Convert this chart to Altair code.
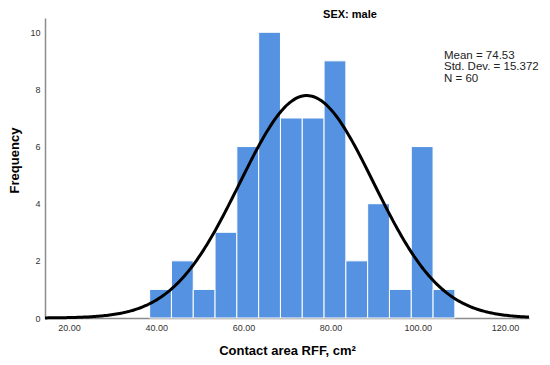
import altair as alt
import numpy as np
import pandas as pd

# Histogram data (bin edges in cm², frequencies)
bin_start = [38.5, 43.5, 48.5, 53.5, 58.5, 63.5, 68.5, 73.5, 78.5, 83.5, 88.5, 93.5, 98.5, 103.5]
bin_end = [43.5, 48.5, 53.5, 58.5, 63.5, 68.5, 73.5, 78.5, 83.5, 88.5, 93.5, 98.5, 103.5, 108.5]
counts = [1, 2, 1, 3, 6, 10, 7, 7, 9, 2, 4, 1, 6, 1]

# Summary statistics shown on the chart
MEAN = 74.53
SD = 15.372
N = 60
BIN_WIDTH = 5.0

x_ticks = [20, 40, 60, 80, 100, 120]
y_ticks = [0, 2, 4, 6, 8, 10]
x_domain = [14.5, 125.5]
y_domain = [0, 10.5]
stats_lines = ["Mean = 74.53", "Std. Dev. = 15.372", "N = 60"]

hist = pd.DataFrame({"start": bin_start, "end": bin_end, "count": counts})

xs = np.linspace(x_domain[0], x_domain[1], 300)
ys = N * BIN_WIDTH * np.exp(-0.5 * ((xs - MEAN) / SD) ** 2) / (SD * np.sqrt(2 * np.pi))
curve_df = pd.DataFrame({"x": xs, "y": ys})

FONT = "Liberation Sans"

x_scale = alt.Scale(domain=x_domain, nice=False, zero=False)
y_scale = alt.Scale(domain=y_domain, nice=False)

bars = alt.Chart(hist).mark_rect(color="#5592e2", stroke="white", strokeWidth=1).encode(
    x=alt.X("start:Q", scale=x_scale,
            axis=alt.Axis(title="Contact area RFF, cm²", values=x_ticks, format=".2f",
                          grid=False, ticks=False, domainColor="#8c8c8c", domainWidth=1.5,
                          labelFontSize=9, labelColor="#333333", labelPadding=5,
                          titleFontSize=13, titleFontWeight="bold", titleColor="black",
                          titlePadding=12, labelFont=FONT, titleFont=FONT)),
    x2="end:Q",
    y=alt.Y("count:Q", scale=y_scale,
            axis=alt.Axis(title="Frequency", values=y_ticks, grid=False, ticks=False,
                          domainColor="#8c8c8c", domainWidth=1.5,
                          labelFontSize=9, labelColor="#333333", labelPadding=5,
                          titleFontSize=13, titleFontWeight="bold", titleColor="black",
                          titlePadding=8, titleY=142, labelFont=FONT, titleFont=FONT)),
    y2=alt.datum(0),
)

curve = alt.Chart(curve_df).mark_line(color="black", strokeWidth=3).encode(
    x=alt.X("x:Q", scale=x_scale),
    y=alt.Y("y:Q", scale=y_scale),
)

stats = alt.Chart(pd.DataFrame({"x": [106.0], "y": [9.07], "t": [stats_lines]})).mark_text(
    align="left", baseline="alphabetic", fontSize=11.5, font=FONT, color="#222222",
    lineHeight=11.5
).encode(
    x=alt.X("x:Q", scale=x_scale),
    y=alt.Y("y:Q", scale=y_scale),
    text="t",
)

chart = alt.layer(bars, curve, stats).properties(
    width=484,
    height=300,
    autosize=alt.AutoSizeParams(type="none"),
    padding={"left": 37, "top": 10, "right": 13, "bottom": 39},
    title=alt.TitleParams("SEX: male", fontSize=11, fontWeight="bold", font=FONT,
                          color="black", anchor="middle", dx=63, offset=-2),
).configure_view(stroke=None)

chart.save("out.html", embed_options={"renderer": "svg", "actions": False})
